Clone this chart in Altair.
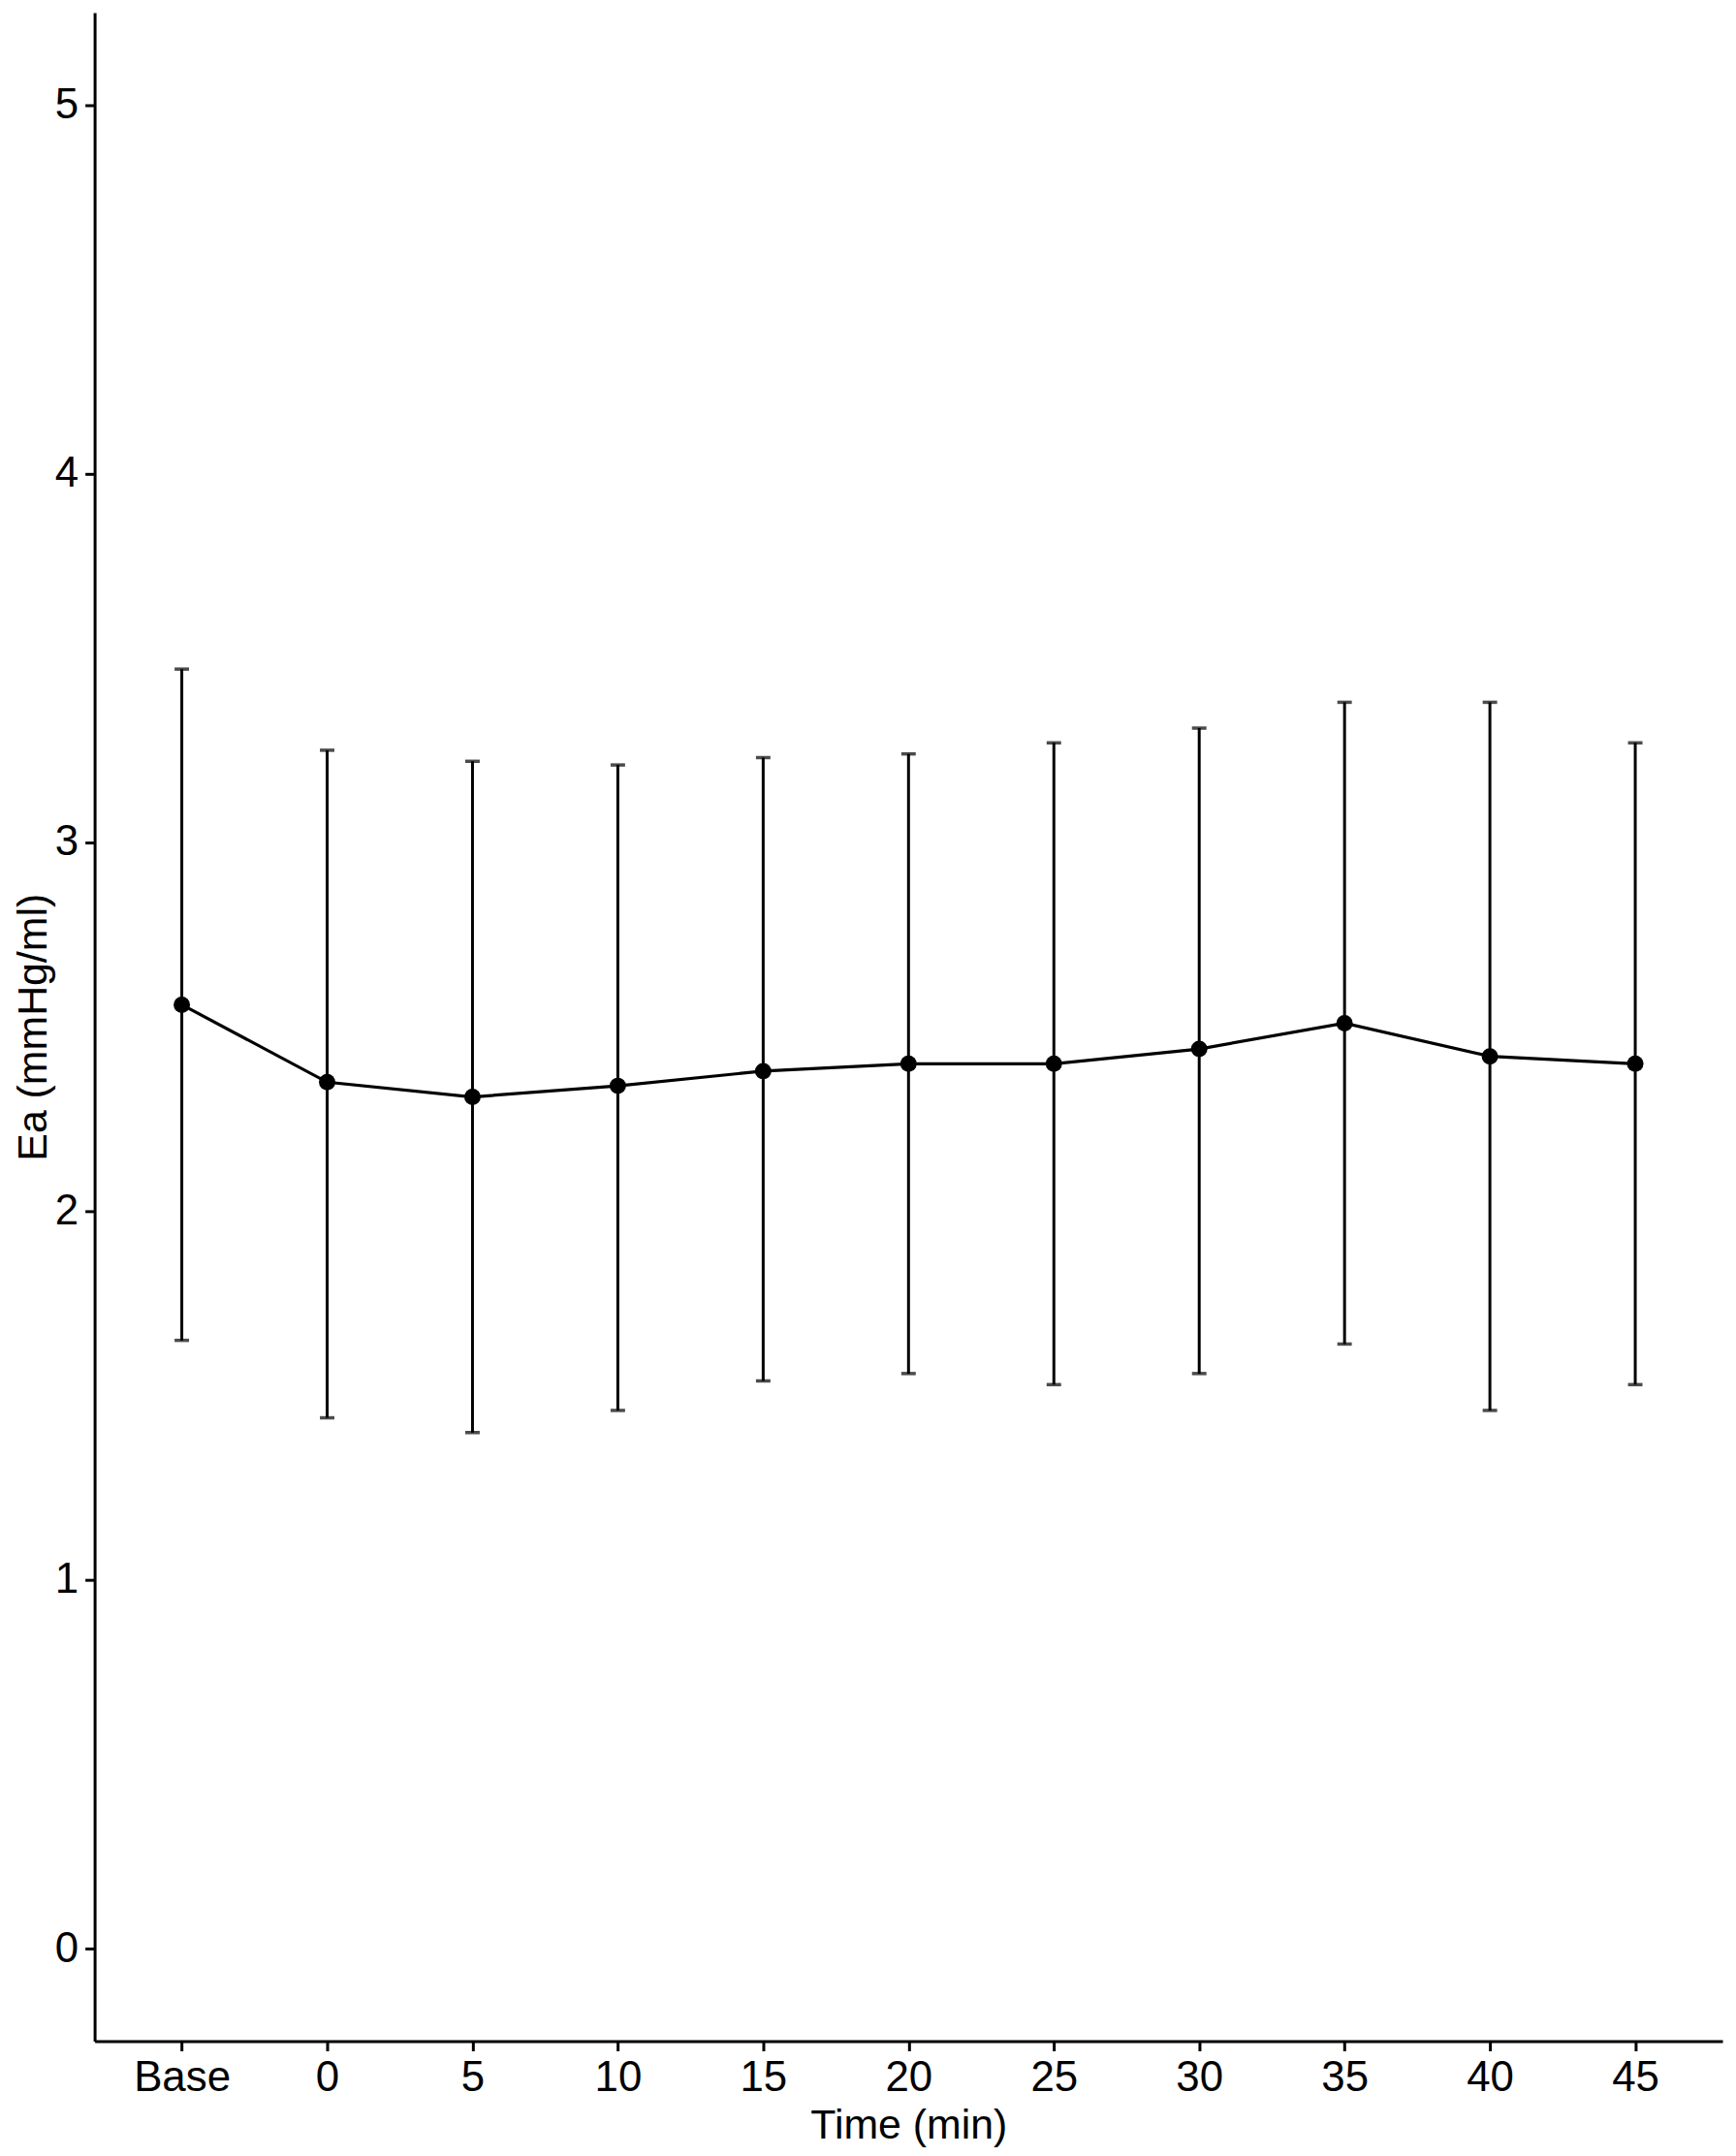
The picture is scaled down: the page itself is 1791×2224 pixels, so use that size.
import altair as alt
import pandas as pd

# Time points (categories on the x axis)
times = ["Base", "0", "5", "10", "15", "20", "25", "30", "35", "40", "45"]
# Mean Ea (mmHg/ml)
ea_mean = [2.56, 2.35, 2.31, 2.34, 2.38, 2.40, 2.40, 2.44, 2.51, 2.42, 2.40]
# Upper end of error bar
ea_upper = [3.47, 3.25, 3.22, 3.21, 3.23, 3.24, 3.27, 3.31, 3.38, 3.38, 3.27]
# Lower end of error bar
ea_lower = [1.65, 1.44, 1.40, 1.46, 1.54, 1.56, 1.53, 1.56, 1.64, 1.46, 1.53]
y_ticks = [0, 1, 2, 3, 4, 5]

df = pd.DataFrame({"time": times, "mean": ea_mean, "upper": ea_upper, "lower": ea_lower})

FONT = "Liberation Sans"
W, H = 1687, 2102

x_enc = alt.X(
    "time:N",
    sort=times,
    scale=alt.Scale(type="point", padding=0.6),
    axis=alt.Axis(
        title="Time (min)",
        labelAngle=0,
        labelPadding=6,
        labelFontSize=44,
        titleFontSize=43,
        titleFontWeight="normal",
        titleY=100,
        titleBaseline="alphabetic",
    ),
)
y_scale = alt.Scale(domain=[-0.25, 5.25], nice=False, zero=False)
y_axis = alt.Axis(
    title="Ea (mmHg/ml)",
    values=y_ticks,
    format="d",
    labelPadding=7,
    labelFontSize=44,
    titleFontSize=43,
    titleFontWeight="normal",
    titleAngle=270,
    titleX=-50,
    titleY=H / 2,
    titleAlign="center",
    titleBaseline="alphabetic",
)

base = alt.Chart(df)

rules = base.mark_rule(color="black", strokeWidth=3).encode(
    x=x_enc,
    y=alt.Y("lower:Q", scale=y_scale, axis=y_axis),
    y2="upper:Q",
)
caps_up = base.mark_tick(color="black", size=15, thickness=3.5).encode(
    x=x_enc, y=alt.Y("upper:Q", scale=y_scale, axis=y_axis)
)
caps_lo = base.mark_tick(color="black", size=15, thickness=3.5).encode(
    x=x_enc, y=alt.Y("lower:Q", scale=y_scale, axis=y_axis)
)
line = base.mark_line(color="black", strokeWidth=3.2).encode(
    x=x_enc, y=alt.Y("mean:Q", scale=y_scale, axis=y_axis)
)
points = base.mark_point(color="black", filled=True, size=290, opacity=1).encode(
    x=x_enc, y=alt.Y("mean:Q", scale=y_scale, axis=y_axis)
)

chart = (
    alt.layer(rules, caps_up, caps_lo, line, points)
    .properties(
        width=W,
        height=H,
        autosize=alt.AutoSizeParams(type="none"),
        padding={"left": 90, "top": 0, "right": 6, "bottom": 106},
        background="white",
    )
    .configure_view(stroke=None)
    .configure_axis(
        grid=False,
        domainColor="black",
        domainWidth=3,
        tickColor="black",
        tickWidth=3,
        tickSize=10,
        labelColor="black",
        titleColor="black",
        labelFont=FONT,
        titleFont=FONT,
    )
)

chart.save("out.html", embed_options={"renderer": "svg", "actions": False})
